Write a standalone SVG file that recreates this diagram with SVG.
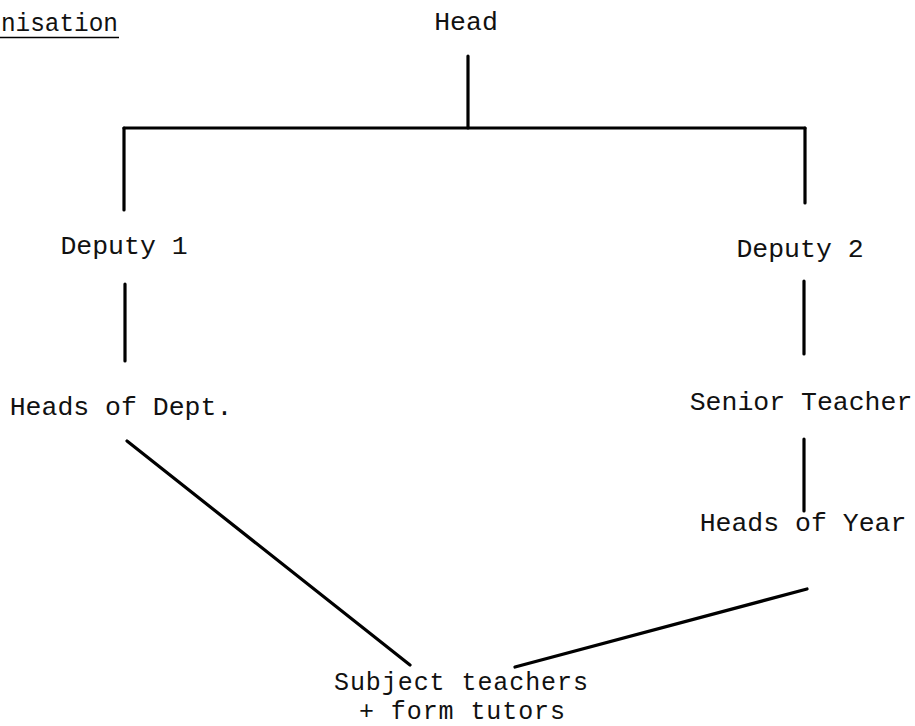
<svg xmlns="http://www.w3.org/2000/svg" width="915" height="726" viewBox="0 0 915 726">
<style>
text{font-family:"Liberation Mono","Courier New",monospace;font-size:26.5px;fill:#111;text-anchor:middle}
.s{font-size:25px}
.c line{stroke:#000;stroke-width:3.2;stroke-linecap:round}
</style>
<rect width="915" height="726" fill="#fff"/>
<g id="title"><text x="1" y="31" textLength="117" lengthAdjust="spacingAndGlyphs" style="text-anchor:start">nisation</text><line x1="0" y1="37.5" x2="119" y2="37.5" stroke="#000" stroke-width="1.6"/></g>
<g id="head"><text x="466" y="30">Head</text></g>
<g id="deputy1"><text x="124" y="254">Deputy 1</text></g>
<g id="deputy2"><text x="800" y="257">Deputy 2</text></g>
<g id="headsdept"><text x="121" y="415">Heads of Dept.</text></g>
<g id="senior"><text x="801" y="410">Senior Teacher</text></g>
<g id="headsyear"><text x="803" y="531">Heads of Year</text></g>
<g id="subject"><text class="s" x="461" y="690" textLength="254">Subject teachers</text><text class="s" x="462" y="719" textLength="206">+ form tutors</text></g>
<g class="c" id="connectors">
<line x1="468" y1="56" x2="468" y2="128"/>
<line x1="124" y1="128" x2="805" y2="128"/>
<line x1="124" y1="128" x2="124" y2="210"/>
<line x1="805" y1="128" x2="805" y2="203"/>
<line x1="125" y1="284" x2="125" y2="361"/>
<line x1="804" y1="281" x2="804" y2="354"/>
<line x1="804" y1="439" x2="804" y2="511"/>
<line x1="127" y1="441" x2="410" y2="665"/>
<line x1="515" y1="667" x2="807" y2="589"/>
</g>
</svg>
